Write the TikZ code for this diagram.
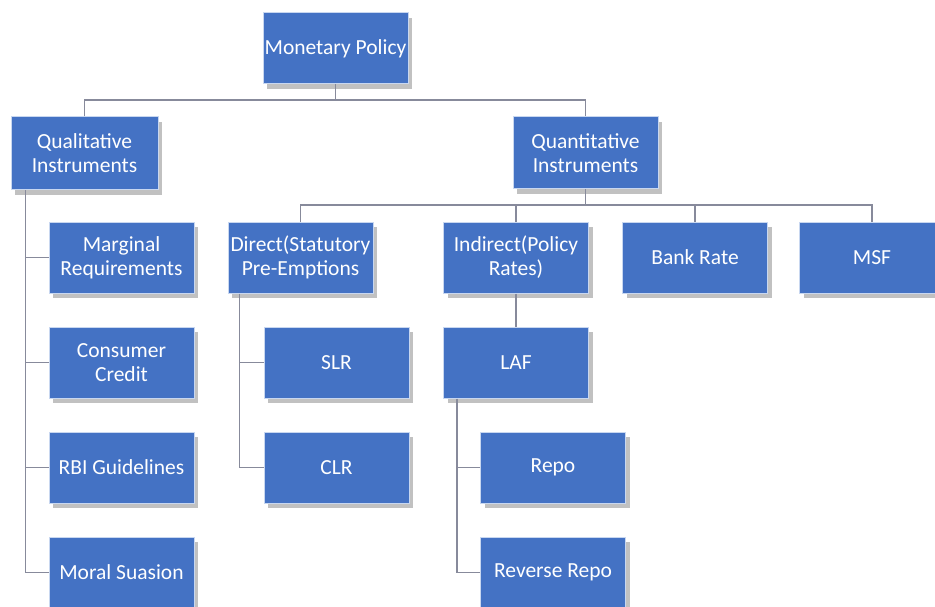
\documentclass[tikz,border=0pt]{standalone}
\usepackage{fontspec}
\setmainfont{Carlito}
\usetikzlibrary{shadows}
\definecolor{boxblue}{RGB}{68,114,196}
\definecolor{boxedge}{RGB}{200,215,240}
\definecolor{linegray}{RGB}{135,138,155}
\tikzset{
  box/.style={rectangle, fill=boxblue, draw=boxedge, line width=1pt,
    text=white, align=center, inner sep=0pt,
    minimum width=145pt, minimum height=71pt,
    font=\fontsize{21.5}{24}\selectfont,
    drop shadow={opacity=0.4, fill=black!60, shadow xshift=4pt, shadow yshift=-5pt}},
  conn/.style={draw=linegray, line width=1.3pt}
}
\begin{document}
\begin{tikzpicture}[x=1pt,y=1pt]
\useasboundingbox (0,0) rectangle (935,-607);
\fill[white] (0,0) rectangle (935,-607);
\node[box] (mp) at (335.5,-48.5) {Monetary Policy};
\node[box, minimum width=147pt, minimum height=73pt] (qual) at (84.5,-153.5) {Qualitative\\Instruments};
\node[box, minimum height=72pt] (quant) at (585.5,-153) {Quantitative\\Instruments};
\node[box] (direct) at (300.5,-257.5) {Direct(Statutory\\Pre-Emptions};
\node[box] (indirect) at (516,-257.5) {Indirect(Policy\\Rates)};
\node[box] (bank) at (695,-257.5) {Bank Rate};
\node[box] (msf) at (872,-257.5) {MSF};
\node[box] (marg) at (121.5,-257.5) {Marginal\\Requirements};
\node[box] (cons) at (121.5,-362.5) {Consumer\\Credit};
\node[box] (rbi) at (121.5,-467.5) {RBI Guidelines};
\node[box] (moral) at (121.5,-572.5) {Moral Suasion};
\node[box] (slr) at (336.5,-362.5) {SLR};
\node[box] (clr) at (336.5,-467.5) {CLR};
\node[box] (laf) at (516,-362.5) {LAF};
\node[box] (repo) at (553,-467.5) {Repo};
\node[box] (rrepo) at (553,-572.5) {Reverse Repo};
% connectors
\coordinate (b1) at (335.5,-100);
\coordinate (b2) at (585.5,-205);
\coordinate (qv) at ([xshift=15pt]qual.south west);
\coordinate (dv) at ([xshift=12pt]direct.south west);
\coordinate (lv) at ([xshift=14pt]laf.south west);
\begin{scope}[conn]
\draw (mp.south) -- (b1);
\draw (qual.north) |- (b1) -| (quant.north);
\draw (quant.south) -- (b2);
\draw (direct.north) |- (b2) -| (msf.north);
\draw (indirect.north) -- (indirect.north |- b2);
\draw (bank.north) -- (bank.north |- b2);
\draw (qv) |- (moral.west);
\foreach \n in {marg,cons,rbi} \draw (\n.west) -- (\n.west -| qv);
\draw (dv) |- (clr.west);
\draw (slr.west) -- (slr.west -| dv);
\draw (indirect.south) -- (laf.north);
\draw (lv) |- (rrepo.west);
\draw (repo.west) -- (repo.west -| lv);
\end{scope}
\end{tikzpicture}
\end{document}
